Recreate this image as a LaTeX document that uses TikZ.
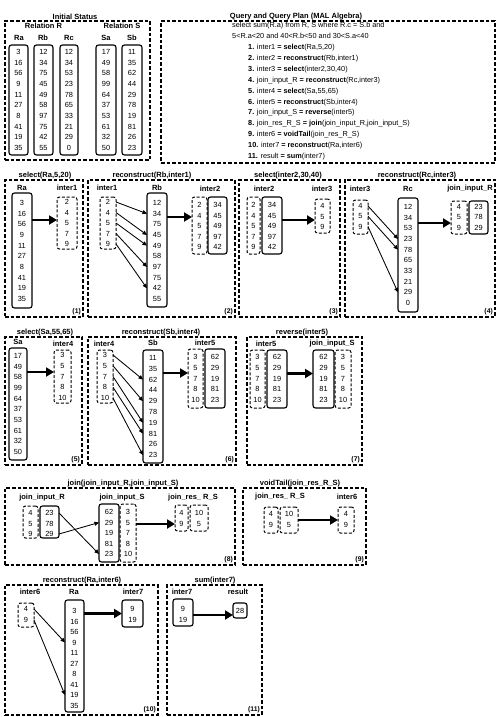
\documentclass[tikz,border=0pt]{standalone}
\usepackage{fontspec}
\setmainfont{Liberation Sans}
\usetikzlibrary{arrows.meta}
\newcommand{\mkcol}[9]{%
  \node[#2, minimum width={(#4)-(#3)}, minimum height={(#6)-(#5)}, anchor=north west] (#1) at (#3,#5) {};
  \foreach \v [count=\i] in {#8} \node[val] (#1-\i) at ({((#3)+(#4))/2},{(#7)+(\i-1)*(#9)}) {\v};
}
\newcommand{\mkpanel}[8]{%
  \node[panel, minimum width={(#3)-(#2)}, minimum height={(#5)-(#4)}, anchor=north west] (#1) at (#2,#4) {};
  \node[ttl, anchor=south] (#1-t) at (#6,#4-1) {#7};
  \node[num, anchor=south east] (#1-n) at (#3-2,#5-2) {(#8)};
}
\newcommand{\lnk}[4]{\draw[thinarrow] (#1.east |- #2) -- (#3.west |- #4);}
\newcommand{\bigarr}[3]{\draw[bigarrow] ([yshift=#3pt]#1.east |- #2.west) -- ([yshift=#3pt]#2.west);}
\begin{document}
\begin{tikzpicture}[x=1pt,y=-1pt,
  val/.style={inner sep=0pt, font=\fontsize{7.4}{8}\selectfont},
  hdr/.style={inner sep=0pt, font=\bfseries\fontsize{7.5}{9}\selectfont},
  ttl/.style={inner sep=0pt, font=\bfseries\fontsize{7.5}{9}\selectfont},
  num/.style={inner sep=0pt, font=\bfseries\fontsize{6.8}{8}\selectfont},
  plan/.style={inner sep=0pt, anchor=base west, font=\fontsize{7.3}{9}\selectfont},
  solidbox/.style={draw, line width=1.1pt, rounded corners=2.5pt, inner sep=0pt, outer sep=0pt},
  dashbox/.style={draw, line width=1.0pt, dash pattern=on 3pt off 1.8pt, rounded corners=2.5pt, inner sep=0pt, outer sep=0pt},
  panel/.style={draw, line width=1.1pt, dash pattern=on 3.6pt off 2pt, inner sep=0pt, outer sep=0pt},
  bigarrow/.style={line width=2.6pt, -{Triangle[length=8pt,width=9pt]}},
  thinarrow/.style={line width=0.85pt, -{Triangle[length=4.5pt,width=4pt]}},
]
\useasboundingbox (0,0) rectangle (499,717);

% ---------- Initial status ----------
\node[panel, minimum width=145, minimum height=139, anchor=north west] (init) at (5,21) {};
\node[ttl, anchor=south] (init-t) at (75,20) {Initial Status};
\node[hdr] (relR) at (43.5,26) {Relation R};
\node[hdr] (relS) at (122,26) {Relation S};
\node[hdr] (i-hRa) at (19,38) {Ra};
\node[hdr] (i-hRb) at (43,38) {Rb};
\node[hdr] (i-hRc) at (69,38) {Rc};
\node[hdr] (i-hSa) at (106,38) {Sa};
\node[hdr] (i-hSb) at (132,38) {Sb};
\mkcol{iRa}{solidbox}{9}{28}{45}{155}{52}{3,16,56,9,11,27,8,41,19,35}{10.67}
\mkcol{iRb}{solidbox}{34}{53}{45}{155}{52}{12,34,75,45,49,58,97,75,42,55}{10.67}
\mkcol{iRc}{solidbox}{60}{78}{45}{155}{52}{12,34,53,23,78,65,33,21,29,0}{10.67}
\mkcol{iSa}{solidbox}{96}{116}{45}{155}{52}{17,49,58,99,64,37,53,61,32,50}{10.67}
\mkcol{iSb}{solidbox}{122}{142}{45}{155}{52}{11,35,62,44,29,78,19,81,26,23}{10.67}

% ---------- Query ----------
\node[panel, minimum width=334, minimum height=142, anchor=north west] (query) at (161,21) {};
\node[ttl, anchor=south] (query-t) at (296,20) {Query and Query Plan (MAL Algebra)};
\node[plan] (sq1) at (232,28) {select sum(R.a) from R, S where R.c = S.b and};
\node[plan] (sq2) at (232,38.5) {5<R.a<20 and 40<R.b<50 and 30<S.a<40};
\node[plan] (q1) at (248,50) {\textbf{1.} inter1 \textbf{= select}(Ra,5,20)};
\node[plan] (q2) at (248,60.8) {\textbf{2.} inter2 \textbf{= reconstruct}(Rb,inter1)};
\node[plan] (q3) at (248,71.6) {\textbf{3.} inter3 \textbf{= select}(inter2,30,40)};
\node[plan] (q4) at (248,82.4) {\textbf{4.} join\_input\_R \textbf{= reconstruct}(Rc,inter3)};
\node[plan] (q5) at (248,93.2) {\textbf{5.} inter4 \textbf{= select}(Sa,55,65)};
\node[plan] (q6) at (248,104) {\textbf{6.} inter5 \textbf{= reconstruct}(Sb,inter4)};
\node[plan] (q7) at (248,114.8) {\textbf{7.} join\_input\_S \textbf{= reverse}(inter5)};
\node[plan] (q8) at (248,125.6) {\textbf{8.} join\_res\_R\_S \textbf{= join}(join\_input\_R,join\_input\_S)};
\node[plan] (q9) at (248,136.4) {\textbf{9.} inter6 \textbf{= voidTail}(join\_res\_R\_S)};
\node[plan] (q10) at (248,147.2) {\textbf{10.} inter7 \textbf{= reconstruct}(Ra,inter6)};
\node[plan] (q11) at (248,158) {\textbf{11.} result \textbf{= sum}(inter7)};

% ---------- (1) ----------
\mkpanel{p1}{5}{83}{180}{317}{45}{select(Ra,5,20)}{1}
\node[hdr] (a-hRa) at (22,188) {Ra};
\mkcol{a-Ra}{solidbox}{12}{32}{193}{308}{203}{3,16,56,9,11,27,8,41,19,35}{10.67}
\node[hdr] (a-hi1) at (67,188) {inter1};
\mkcol{a-i1}{dashbox}{57}{77}{197}{249}{202}{2,4,5,7,9}{10.5}
\bigarr{a-Ra}{a-i1}{3}

% ---------- (2) ----------
\mkpanel{p2}{88}{235}{180}{317}{152}{reconstruct(Rb,inter1)}{2}
\node[hdr] (b-hi1) at (107,188) {inter1};
\mkcol{b-i1}{dashbox}{100}{116}{197}{249}{202}{2,4,5,7,9}{10.5}
\node[hdr] (b-hRb) at (157,188) {Rb};
\mkcol{b-Rb}{solidbox}{147}{167}{193}{307}{203}{12,34,75,45,49,58,97,75,42,55}{10.67}
\lnk{b-i1}{b-i1-1}{b-Rb}{b-Rb-2}
\lnk{b-i1}{b-i1-2}{b-Rb}{b-Rb-4}
\lnk{b-i1}{b-i1-3}{b-Rb}{b-Rb-5}
\lnk{b-i1}{b-i1-4}{b-Rb}{b-Rb-7}
\lnk{b-i1}{b-i1-5}{b-Rb}{b-Rb-9}
\node[hdr] (b-hi2) at (210,189) {inter2};
\mkcol{b-i2d}{dashbox}{192}{207}{197}{254}{205}{2,4,5,7,9}{10.5}
\mkcol{b-i2s}{solidbox}{208}{227}{197}{254}{205}{34,45,49,97,42}{10.5}
\bigarr{b-Rb}{b-i2d}{8.5}

% ---------- (3) ----------
\mkpanel{p3}{239}{340}{180}{317}{288}{select(inter2,30,40)}{3}
\node[hdr] (c-hi2) at (264,189) {inter2};
\mkcol{c-i2d}{dashbox}{247}{260}{197}{254}{205}{2,4,5,7,9}{10.5}
\mkcol{c-i2s}{solidbox}{262}{282}{197}{254}{205}{34,45,49,97,42}{10.5}
\node[hdr] (c-hi3) at (322,189) {inter3};
\mkcol{c-i3}{dashbox}{315}{330}{199}{233}{206}{4,5,9}{10.5}
\bigarr{c-i2s}{c-i3}{-4}

% ---------- (4) ----------
\mkpanel{p4}{345}{495}{180}{317}{417}{reconstruct(Rc,inter3)}{4}
\node[hdr] (d-hi3) at (360,189) {inter3};
\mkcol{d-i3}{dashbox}{353}{368}{200}{234}{206}{4,5,9}{10.3}
\node[hdr] (d-hRc) at (408,189) {Rc};
\mkcol{d-Rc}{solidbox}{398}{418}{198}{312}{207}{12,34,53,23,78,65,33,21,29,0}{10.67}
\lnk{d-i3}{d-i3-1}{d-Rc}{d-Rc-4}
\lnk{d-i3}{d-i3-2}{d-Rc}{d-Rc-5}
\lnk{d-i3}{d-i3-3}{d-Rc}{d-Rc-9}
\node[hdr] (d-hjr) at (470,189) {join\_input\_R};
\mkcol{d-jrd}{dashbox}{451}{467}{201}{234}{207}{4,5,9}{10.3}
\mkcol{d-jrs}{solidbox}{469}{488}{201}{234}{207}{23,78,29}{10.3}
\bigarr{d-Rc}{d-jrd}{-5.5}

% ---------- (5) ----------
\mkpanel{p5}{5}{82}{337}{465}{45}{select(Sa,55,65)}{5}
\node[hdr] (e-hSa) at (18,342) {Sa};
\mkcol{e-Sa}{solidbox}{9}{27}{348}{460}{356}{17,49,58,99,64,37,53,61,32,50}{10.67}
\node[hdr] (e-hi4) at (63,344) {inter4};
\mkcol{e-i4}{dashbox}{54}{71}{350}{403}{355}{3,5,7,8,10}{10.75}
\bigarr{e-Sa}{e-i4}{4.5}

% ---------- (6) ----------
\mkpanel{p6}{88}{236}{337}{465}{161}{reconstruct(Sb,inter4)}{6}
\node[hdr] (f-hi4) at (104,344) {inter4};
\mkcol{f-i4}{dashbox}{97}{113}{350}{403}{355}{3,5,7,8,10}{10.75}
\node[hdr] (f-hSb) at (153,343) {Sb};
\mkcol{f-Sb}{solidbox}{143}{163}{350}{463}{358}{11,35,62,44,29,78,19,81,26,23}{10.8}
\lnk{f-i4}{f-i4-1}{f-Sb}{f-Sb-3}
\lnk{f-i4}{f-i4-2}{f-Sb}{f-Sb-5}
\lnk{f-i4}{f-i4-3}{f-Sb}{f-Sb-7}
\lnk{f-i4}{f-i4-4}{f-Sb}{f-Sb-8}
\lnk{f-i4}{f-i4-5}{f-Sb}{f-Sb-10}
\node[hdr] (f-hi5) at (205,343) {inter5};
\mkcol{f-i5d}{dashbox}{188}{203}{349}{408}{357}{3,5,7,8,10}{10.75}
\mkcol{f-i5s}{solidbox}{205}{225}{349}{408}{357}{62,29,19,81,23}{10.75}
\bigarr{f-Sb}{f-i5d}{5.5}

% ---------- (7) ----------
\mkpanel{p7}{247}{362}{337}{465}{302}{reverse(inter5)}{7}
\node[hdr] (g-hi5) at (266,344) {inter5};
\mkcol{g-i5d}{dashbox}{250}{265}{350}{408}{357}{3,5,7,8,10}{10.75}
\mkcol{g-i5s}{solidbox}{267}{287}{350}{408}{357}{62,29,19,81,23}{10.75}
\node[hdr] (g-hjs) at (332,344) {join\_input\_S};
\mkcol{g-jss}{solidbox}{313}{334}{350}{408}{357}{62,29,19,81,23}{10.75}
\mkcol{g-jsd}{dashbox}{335}{351}{350}{408}{357}{3,5,7,8,10}{10.75}
\bigarr{g-i5s}{g-jss}{5.5}

% ---------- (8) ----------
\mkpanel{p8}{5}{235}{488}{565}{123}{join(join\_input\_R,join\_input\_S)}{8}
\node[hdr] (h-hjr) at (42,498) {join\_input\_R};
\mkcol{h-jrd}{dashbox}{23}{38}{506}{538}{513}{4,5,9}{10.5}
\mkcol{h-jrs}{solidbox}{40}{59}{506}{538}{513}{23,78,29}{10.5}
\node[hdr] (h-hjs) at (122,498) {join\_input\_S};
\mkcol{h-jss}{solidbox}{99}{119}{504}{562}{512}{62,29,19,81,23}{10.5}
\mkcol{h-jsd}{dashbox}{120}{136}{504}{562}{512}{3,5,7,8,10}{10.5}
\lnk{h-jrs}{h-jrs-1}{h-jss}{h-jss-5}
\lnk{h-jrs}{h-jrs-3}{h-jss}{h-jss-2}
\node[hdr] (h-hres) at (193,498) {join\_res\_ R\_S};
\mkcol{h-rd1}{dashbox}{175}{188}{505}{531}{513}{4,9}{10.5}
\mkcol{h-rd2}{dashbox}{190}{208}{505}{531}{513}{10,5}{10.5}
\bigarr{h-jsd}{h-rd1}{-6}

% ---------- (9) ----------
\mkpanel{p9}{243}{366}{488}{565}{300}{voidTail(join\_res\_R\_S)}{9}
\node[hdr] (k-hres) at (280,497) {join\_res\_ R\_S};
\mkcol{k-rd1}{dashbox}{264}{278}{507}{533}{514}{4,9}{10.5}
\mkcol{k-rd2}{dashbox}{280}{298}{507}{533}{514}{10,5}{10.5}
\node[hdr] (k-hi6) at (347,497) {inter6};
\mkcol{k-i6}{dashbox}{338}{354}{507}{533}{514}{4,9}{10.5}
\bigarr{k-rd2}{k-i6}{0}

% ---------- (10) ----------
\mkpanel{p10}{5}{158}{585}{715}{82}{reconstruct(Ra,inter6)}{10}
\node[hdr] (m-hi6) at (30,592) {inter6};
\mkcol{m-i6}{dashbox}{18}{34}{603}{627}{609}{4,9}{11}
\node[hdr] (m-hRa) at (74,592) {Ra};
\mkcol{m-Ra}{solidbox}{65}{84}{600}{712}{611}{3,16,56,9,11,27,8,41,19,35}{10.5}
\lnk{m-i6}{m-i6-1}{m-Ra}{m-Ra-4}
\lnk{m-i6}{m-i6-2}{m-Ra}{m-Ra-9}
\node[hdr] (m-hi7) at (133,592) {inter7};
\mkcol{m-i7}{solidbox}{122}{143}{600}{627}{609}{9,19}{11}
\bigarr{m-Ra}{m-i7}{0}

% ---------- (11) ----------
\mkpanel{p11}{167}{262}{585}{715}{215}{sum(inter7)}{11}
\node[hdr] (n-hi7) at (182,592) {inter7};
\mkcol{n-i7}{solidbox}{173}{193}{599}{626}{609}{9,19}{11}
\node[hdr] (n-hres) at (238,592) {result};
\mkcol{n-res}{solidbox}{233}{247}{603}{618}{611}{28}{10}
\bigarr{n-i7}{n-res}{-4.5}
\end{tikzpicture}
\end{document}
